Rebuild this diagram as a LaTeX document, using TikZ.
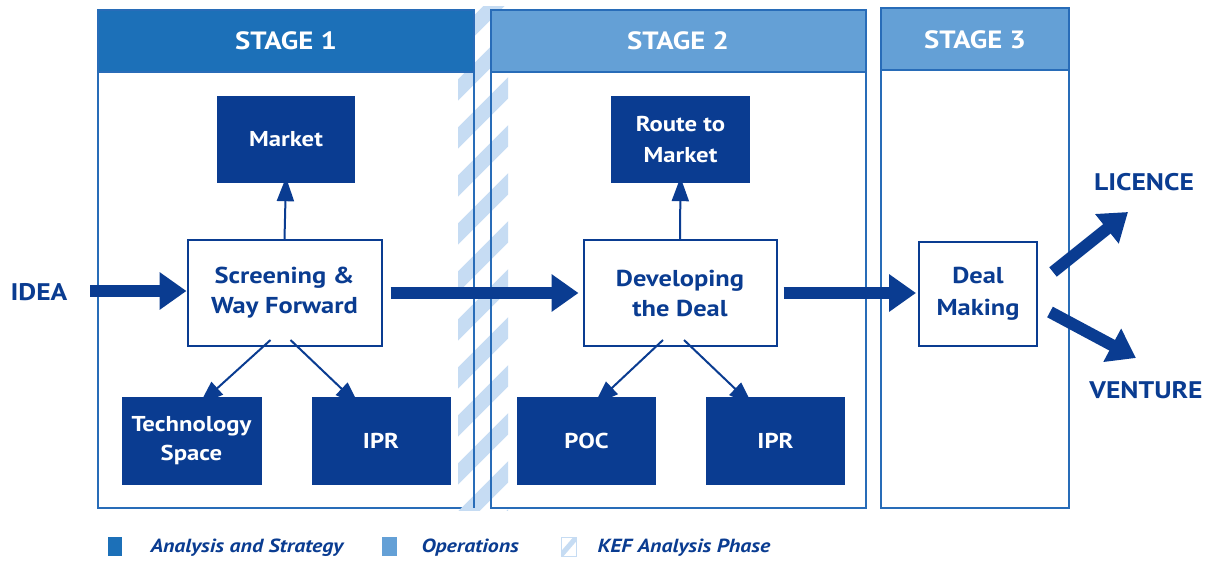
\documentclass[tikz,border=0pt]{standalone}
\usepackage{fontspec}
\setmainfont{PT Sans}[FakeStretch=1.15]
\usetikzlibrary{arrows.meta}
\definecolor{navy}{RGB}{10,60,145}
\definecolor{hdrA}{RGB}{28,112,184}
\definecolor{hdrB}{RGB}{100,160,214}
\definecolor{bord}{RGB}{40,108,184}
\definecolor{stripe}{RGB}{198,220,243}
\tikzset{
  stagebox/.style={draw=bord, line width=2pt, fill=white},
  hdrdark/.style={draw=bord, line width=2pt, fill=hdrA},
  hdrlight/.style={draw=bord, line width=2pt, fill=hdrB},
  hdrtext/.style={text=white, font=\fontsize{25}{27}\selectfont\bfseries},
  darkbox/.style={fill=navy, text=white, align=center, inner sep=0pt,
    font=\fontsize{21.5}{29}\selectfont\bfseries},
  whitebox/.style={draw=navy, line width=2pt, fill=white, text=navy, align=center, inner sep=0pt,
    font=\fontsize{23}{30}\selectfont\bfseries},
  bigarrow/.style={draw=navy, line width=12pt, -{Triangle[length=27pt,width=36pt]}},
  thinarrow/.style={draw=navy, line width=2pt, -{Triangle[length=24pt,width=17pt]}},
  outlabel/.style={text=navy, font=\fontsize{24}{26}\selectfont\bfseries},
  legtext/.style={text=navy, anchor=west, font=\fontsize{19}{21}\selectfont\bfseries\itshape},
}
\begin{document}
\begin{tikzpicture}[x=1pt,y=-1pt]
\useasboundingbox (0,0) rectangle (1207,562);
% stage bodies
\draw[stagebox] (98,10) rectangle (474,508);
\draw[stagebox] (491,10) rectangle (866,508);
\draw[stagebox] (881,8) rectangle (1069,508);
% KEF stripe band
\begin{scope}
\clip (458,6) rectangle (508,510);
\foreach \k in {0,...,12} {
  \draw[stripe, line width=15pt] (440,60+\k*48) -- (530,-30+\k*48);
}
\end{scope}
\draw[bord, line width=2pt] (474,10) -- (474,508);
\draw[bord, line width=2pt] (491,10) -- (491,508);
% headers
\draw[hdrdark] (98,10) rectangle (474,72);
\draw[hdrlight] (491,10) rectangle (866,72);
\draw[hdrlight] (881,8) rectangle (1069,70);
\node[hdrtext] (h1) at (286,41) {STAGE 1};
\node[hdrtext] (h2) at (678,41) {STAGE 2};
\node[hdrtext] (h3) at (975,40) {STAGE 3};
% dark boxes
\node[darkbox, minimum width=138pt, minimum height=87pt] (market) at (286,139.5) {Market};
\node[darkbox, minimum width=139pt, minimum height=87pt] (route) at (680.5,139.5) {\raisebox{2pt}{Route to}\\Market};
\node[darkbox, minimum width=140pt, minimum height=88pt] (tech) at (191.5,440.5) {Technology\\Space};
\node[darkbox, minimum width=139pt, minimum height=88pt] (ipr1) at (381,440.5) {IPR};
\node[darkbox, minimum width=139pt, minimum height=88pt] (poc) at (586.5,440.5) {POC};
\node[darkbox, minimum width=139pt, minimum height=88pt] (ipr2) at (775.5,440.5) {IPR};
% white boxes
\node[whitebox, minimum width=194pt, minimum height=106pt] (screen) at (284.5,293) {Screening \&\\Way Forward};
\node[whitebox, minimum width=193pt, minimum height=106pt] (dev) at (680,293) {Developing\\the Deal};
\node[whitebox, minimum width=118pt, minimum height=104pt, font=\fontsize{23}{32}\selectfont\bfseries] (deal) at (978,294) {Deal\\Making};
% labels
\node[outlabel] (idea) at (39,292) {IDEA};
\node[outlabel] (lic) at (1144,182) {LICENCE};
\node[outlabel] (ven) at (1146,390) {VENTURE};
\coordinate (ideaend) at (90,291);
\coordinate (licend) at (1128,212);
\coordinate (venend) at (1136,358);
% big arrows
\draw[bigarrow] (ideaend) -- (screen.west|-ideaend);
\draw[bigarrow] ([xshift=8pt]screen.east) -- ([xshift=-4pt]dev.west|-screen.east);
\draw[bigarrow] ([xshift=6pt]dev.east) -- ([xshift=-2pt]deal.west|-dev.east);
\draw[bigarrow] (1053,272) -- (licend);
\draw[bigarrow] (1050,312) -- (venend);
% thin arrows
\draw[thinarrow] (screen.north) -- ([yshift=6pt]market.south);
\draw[thinarrow] (dev.north) -- ([yshift=6pt]route.south);
\draw[thinarrow] ([xshift=-14pt,yshift=7pt]screen.south) -- ([xshift=8pt,yshift=-8pt]tech.north);
\draw[thinarrow] ([xshift=6pt,yshift=7pt]screen.south) -- ([xshift=-22pt,yshift=-9pt]ipr1.north);
\draw[thinarrow] ([xshift=-17pt,yshift=7pt]dev.south) -- ([xshift=8pt,yshift=-8pt]poc.north);
\draw[thinarrow] ([xshift=4pt,yshift=7pt]dev.south) -- ([xshift=-23pt,yshift=-9pt]ipr2.north);
% legend
\fill[hdrA] (108,537) rectangle (122,556);
\node[legtext] (l1) at (147,548) {Analysis and Strategy};
\fill[hdrB] (382,537) rectangle (397,556);
\node[legtext] (l2) at (418,548) {Operations};
\begin{scope}
\clip (561,537) rectangle (576,556);
\fill[white] (561,537) rectangle (576,556);
\draw[stripe, line width=5pt] (556,561) -- (581,532);
\end{scope}
\draw[stripe, line width=1pt] (561,537) rectangle (576,556);
\node[legtext] (l3) at (594,548) {KEF Analysis Phase};
\end{tikzpicture}
\end{document}
